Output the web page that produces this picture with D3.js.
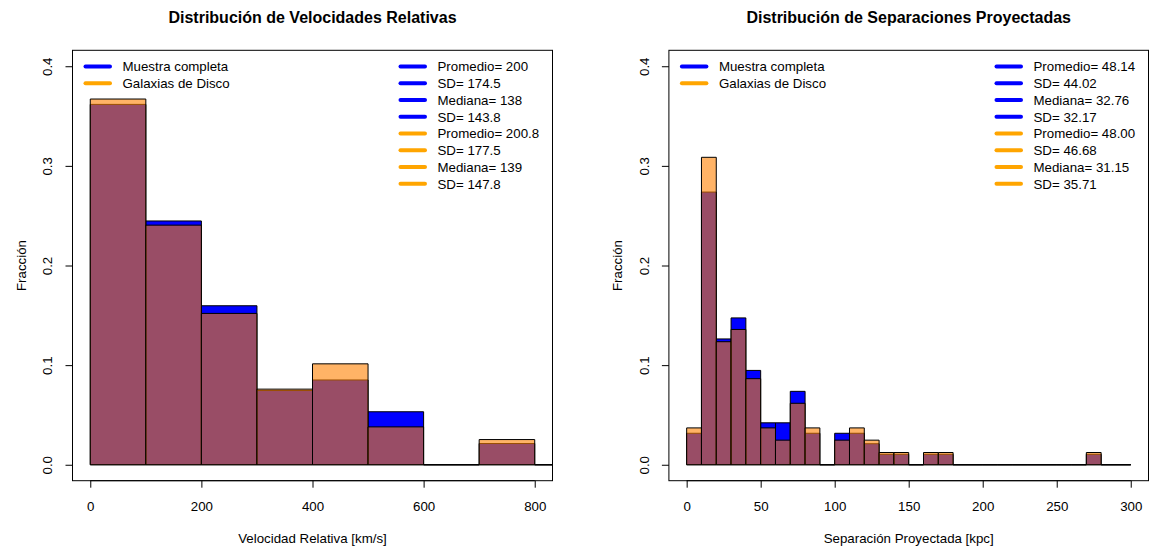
<!DOCTYPE html>
<html>
<head>
<meta charset="utf-8">
<script src="https://cdn.jsdelivr.net/npm/d3@7"></script>
<style>
  html, body { margin: 0; padding: 0; background: #ffffff; }
  svg { display: block; }
  text { font-family: "Liberation Sans", Arial, sans-serif; fill: #000; }
</style>
</head>
<body>
<svg id="chart" width="1150" height="551"></svg>
<script>
// ---- Velocidades relativas: histogram fractions per 100 km/s bin ----
const velBreaks = [0, 100, 200, 300, 400, 500, 600, 700, 800, 900];
const velMuestra = [0.3617, 0.2447, 0.1596, 0.0745, 0.0851, 0.0532, 0, 0.0213, 0];
const velDisco   = [0.3671, 0.2405, 0.1519, 0.0759, 0.1013, 0.0380, 0, 0.0253, 0];
const velTicksX = [0, 200, 400, 600, 800];
const velStats = ["Promedio= 200", "SD= 174.5", "Mediana= 138", "SD= 143.8",
                  "Promedio= 200.8", "SD= 177.5", "Mediana= 139", "SD= 147.8"];

// ---- Separaciones proyectadas: histogram fractions per 10 kpc bin ----
const sepBreaks = [0, 10, 20, 30, 40, 50, 60, 70, 80, 90, 100, 110, 120, 130, 140, 150,
                   160, 170, 180, 190, 200, 210, 220, 230, 240, 250, 260, 270, 280, 290, 300];
const sepMuestra = [0.0316, 0.2737, 0.1263, 0.1474, 0.0947, 0.0421, 0.0421, 0.0737, 0.0316, 0,
                    0.0316, 0.0316, 0.0211, 0.0105, 0.0105, 0, 0.0105, 0.0105, 0, 0,
                    0, 0, 0, 0, 0, 0, 0, 0.0105, 0, 0];
const sepDisco   = [0.0370, 0.3086, 0.1235, 0.1358, 0.0864, 0.0370, 0.0247, 0.0617, 0.0370, 0,
                    0.0247, 0.0370, 0.0247, 0.0123, 0.0123, 0, 0.0123, 0.0123, 0, 0,
                    0, 0, 0, 0, 0, 0, 0, 0.0123, 0, 0];
const sepTicksX = [0, 50, 100, 150, 200, 250, 300];
const sepStats = ["Promedio= 48.14", "SD= 44.02", "Mediana= 32.76", "SD= 32.17",
                  "Promedio= 48.00", "SD= 46.68", "Mediana= 31.15", "SD= 35.71"];

const fracTicks = [0, 0.1, 0.2, 0.3, 0.4];
const seriesNames = ["Muestra completa", "Galaxias de Disco"];
const statColors = ["blue", "blue", "blue", "blue", "orange", "orange", "orange", "orange"];

const BLUE = "#0000ff";
const ORANGE_FILL = "rgba(255,128,0,0.6)";
const FONT = 13.3;

const svg = d3.select("#chart");

function panel(opts) {
  const { left, right, top, bottom, xlim, ylim } = opts;
  const padX = (xlim[1] - xlim[0]) * 0.04;
  const padY = (ylim[1] - ylim[0]) * 0.04;
  const x = d3.scaleLinear().domain([xlim[0] - padX, xlim[1] + padX]).range([left, right]);
  const y = d3.scaleLinear().domain([ylim[0] - padY, ylim[1] + padY]).range([bottom, top]);
  const g = svg.append("g");

  const clipId = "clip-" + opts.id;
  svg.append("clipPath").attr("id", clipId)
    .append("rect").attr("x", left).attr("y", top)
    .attr("width", right - left).attr("height", bottom - top);

  const bars = g.append("g").attr("clip-path", `url(#${clipId})`);
  const bins = (vals) => vals.map((v, i) => ({ x0: opts.breaks[i], x1: opts.breaks[i + 1], v }));
  const barPath = d => {
    const x0 = x(d.x0), x1 = x(d.x1), y0 = y(0), y1 = y(d.v);
    return `M${x0},${y0}H${x1}V${y1}H${x0}Z`;
  };

  bars.selectAll("path.total").data(bins(opts.total)).join("path")
    .attr("class", "total").attr("d", barPath)
    .attr("fill", BLUE).attr("stroke", "#000").attr("stroke-width", 1);
  bars.selectAll("path.disk").data(bins(opts.disk)).join("path")
    .attr("class", "disk").attr("d", barPath)
    .attr("fill", ORANGE_FILL).attr("stroke", "#000").attr("stroke-width", 1);

  // frame
  g.append("rect").attr("x", left).attr("y", top)
    .attr("width", right - left).attr("height", bottom - top)
    .attr("fill", "none").attr("stroke", "#000").attr("stroke-width", 1);

  // x axis
  const ax = g.append("g").attr("transform", `translate(0,${bottom})`)
    .call(d3.axisBottom(x).tickValues(opts.xticks).tickSize(7).tickPadding(13.5)
      .tickFormat(d3.format("d")));
  ax.select(".domain").remove();
  ax.selectAll("line").attr("stroke", "#000");
  ax.selectAll("text").attr("font-size", FONT).attr("font-family", null);
  // axis line spanning first to last tick
  g.append("line").attr("x1", x(opts.xticks[0])).attr("x2", x(opts.xticks[opts.xticks.length - 1]))
    .attr("y1", bottom).attr("y2", bottom).attr("stroke", "#000");

  // y axis
  const ay = g.append("g").attr("transform", `translate(${left},0)`)
    .call(d3.axisLeft(y).tickValues(fracTicks).tickSize(7).tickFormat(d3.format(".1f")));
  ay.select(".domain").remove();
  ay.selectAll("line").attr("stroke", "#000");
  ay.selectAll("text")
    .attr("x", null).attr("dy", null)
    .attr("text-anchor", "middle")
    .attr("transform", "translate(-20.2,0) rotate(-90)")
    .attr("font-size", FONT).attr("font-family", null);

  // titles
  const cx = (left + right) / 2;
  g.append("text").attr("x", cx).attr("y", 23).attr("text-anchor", "middle")
    .attr("font-size", 16).attr("font-weight", "bold").text(opts.title);
  g.append("text").attr("x", cx).attr("y", 543).attr("text-anchor", "middle")
    .attr("font-size", FONT).text(opts.xlabel);
  g.append("text").attr("transform", `translate(${left - 47},${(top + bottom) / 2}) rotate(-90)`)
    .attr("text-anchor", "middle").attr("font-size", FONT).text("Fracción");

  // legends
  const rowY = i => 66.5 + i * 16.75;
  const legend = (x0, labels, colors) => {
    const lg = g.append("g");
    labels.forEach((t, i) => {
      lg.append("line").attr("x1", x0 + 2).attr("x2", x0 + 26.5)
        .attr("y1", rowY(i)).attr("y2", rowY(i))
        .attr("stroke", colors[i]).attr("stroke-width", 4).attr("stroke-linecap", "round");
      lg.append("text").attr("x", x0 + 39).attr("y", rowY(i) + 4.8)
        .attr("font-size", FONT).text(t);
    });
  };
  legend(left + 11, seriesNames, ["blue", "orange"]);
  legend(right - 154, opts.stats, statColors);
}

panel({
  id: "vel", left: 72.5, right: 552.5, top: 50.3, bottom: 480.7,
  xlim: [0, 800], ylim: [0, 0.4],
  breaks: velBreaks, total: velMuestra, disk: velDisco, xticks: velTicksX,
  stats: velStats,
  title: "Distribución de Velocidades Relativas",
  xlabel: "Velocidad Relativa [km/s]"
});

panel({
  id: "sep", left: 668.9, right: 1148.5, top: 50.3, bottom: 480.7,
  xlim: [0, 300], ylim: [0, 0.4],
  breaks: sepBreaks, total: sepMuestra, disk: sepDisco, xticks: sepTicksX,
  stats: sepStats,
  title: "Distribución de Separaciones Proyectadas",
  xlabel: "Separación Proyectada [kpc]"
});
</script>
</body>
</html>
